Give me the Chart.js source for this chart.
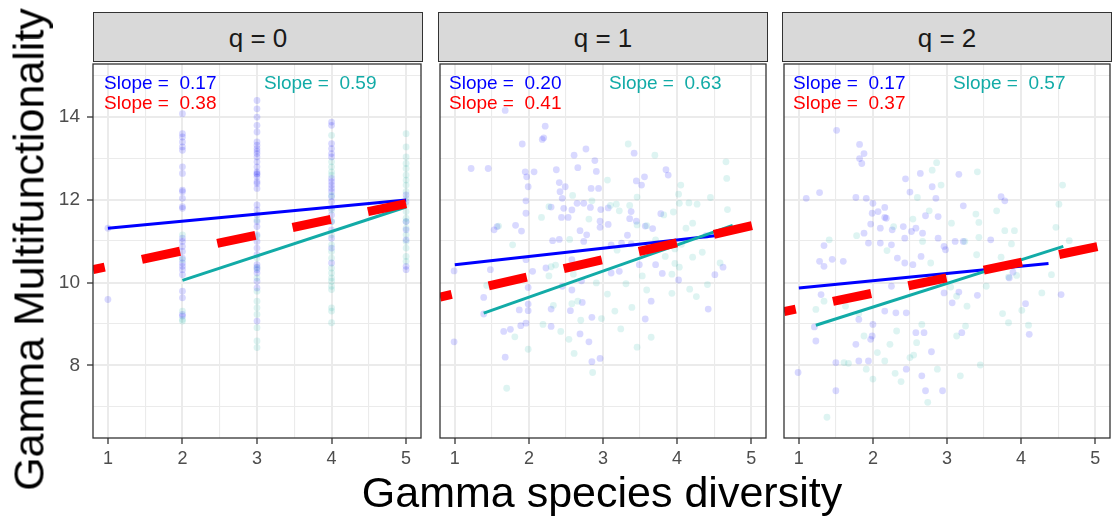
<!DOCTYPE html>
<html>
<head>
<meta charset="utf-8">
<script src="https://cdn.jsdelivr.net/npm/chart.js@4.4.1/dist/chart.umd.min.js"></script>
<style>
  body { margin: 0; background: #fff; width: 1116px; height: 518px; overflow: hidden; position: relative;
         font-family: 'Liberation Sans', Arial, sans-serif; }
  .box { position: absolute; }
  .strip { position: absolute; top: 12px; height: 50px; background: #D9D9D9; border: 1.3px solid #333;
           box-sizing: border-box; font-size: 26px; color: #1a1a1a; display: flex; align-items: center; justify-content: center;
           padding-top: 3px; }
  .note { position: absolute; font-size: 19px; line-height: 19px; white-space: pre; }
  .xtitle { position: absolute; left: 0; width: 1204px; top: 471px; font-size: 43px; line-height: 43px; text-align: center; color: #000; }
  .ytitle { position: absolute; width: 600px; height: 43px; left: -271px; top: 228px; font-size: 43px; line-height: 43px;
            text-align: center; color: #000; transform: rotate(-90deg); }
</style>
</head>
<body>
<div id="root"></div>
<div class="xtitle">Gamma species diversity</div>
<div class="ytitle">Gamma Multifunctionality</div>
<script>
// Facet labels and fitted slopes
const STRIP_LABELS = ['q = 0', 'q = 1', 'q = 2'];
const BLUE_SLOPES = ['0.17', '0.20', '0.17'];
const RED_SLOPES = ['0.38', '0.41', '0.37'];
const TEAL_SLOPES = ['0.59', '0.63', '0.57'];

// Axes
const X_MIN = 0.8, X_MAX = 5.2, Y_MIN = 6.25, Y_MAX = 15.27;
const X_GRID = [1, 1.5, 2, 2.5, 3, 3.5, 4, 4.5, 5];
const X_MAJOR = [1, 2, 3, 4, 5];
const X_TICK_LABELS = ['1', '2', '3', '4', '5'];
const Y_GRID = [7, 8, 9, 10, 11, 12, 13, 14, 15];
const Y_MAJOR = [8, 10, 12, 14];
const Y_TICK_LABELS = ['8', '10', '12', '14'];

// q = 0 : points sit on whole-number diversity, stored as [x, [y...]]
const Q0_BLUE_COLS = [
  [1, [11.31, 9.59]],
  [2, [14.07, 13.59, 13.51, 13.39, 13.27, 13.19, 12.79, 12.63, 12.23, 12.19, 12.03, 11.83, 11.79, 11.07, 10.99,
       10.87, 10.75, 10.59, 10.47, 10.39, 10.31, 10.19, 9.79, 9.63, 9.23, 9.19]],
  [3, [14.39, 14.19, 13.99, 13.79, 13.63, 13.39, 13.31, 13.23, 13.17, 13.11, 13.03, 12.91, 12.79, 12.67, 12.63, 12.61,
       12.55, 12.43, 12.39, 12.27, 11.87, 11.75, 11.63, 11.47, 11.35, 11.15, 10.99, 10.83, 10.67, 10.43, 10.37,
       10.31, 10.23, 10.03, 9.87, 9.07]],
  [4, [13.87, 13.79, 13.35, 13.23, 13.11, 13.03, 12.51, 12.43, 12.35, 12.27, 12.19, 12.07, 11.95, 11.79, 11.63,
       11.47, 11.27, 11.07, 10.83, 10.47]],
  [5, [12.11, 11.95, 11.47, 11.27, 11.03, 10.39, 10.31]]
];
const Q0_TEAL_COLS = [
  [2, [11.15, 10.55, 9.31, 9.11, 9.07]],
  [3, [11.51, 11.11, 10.59, 10.35, 10.11, 9.79, 9.55, 9.39, 9.23, 8.91, 8.59, 8.43]],
  [4, [13.55, 12.91, 12.79, 12.67, 12.59, 12.1, 11.75, 11.47, 11.15, 10.91, 10.75, 10.59, 10.35, 10.23, 10.11,
       10.03, 9.91, 9.83, 9.39, 9.31, 9.03]],
  [5, [13.59, 13.27, 13.03, 12.87, 12.75, 12.59, 12.47, 12.35, 12.19, 12.03, 11.87, 11.71, 11.55, 11.47, 11.31,
       11.15, 10.99, 10.83, 10.63, 10.51]]
];

// q = 1 points [x, y]
const Q1_BLUE = [
  [1.68, 14.15], [2.22, 13.77], [2.20, 13.49], [2.18, 13.45], [1.91, 13.34], [2.61, 13.07], [2.77, 13.22], [2.89, 12.94],
  [3.42, 13.12], [1.22, 12.75], [1.45, 12.75], [1.95, 12.67], [1.97, 12.55], [2.07, 12.67], [2.37, 12.72], [2.66, 12.77],
  [2.91, 12.68], [3.56, 12.55], [3.85, 12.72], [3.88, 12.59], [1.99, 12.31], [2.41, 12.41], [2.49, 12.31], [2.84, 12.27],
  [2.94, 12.27], [3.45, 12.45], [3.52, 12.35], [1.96, 11.97], [2.42, 12.19], [2.45, 12.03], [2.30, 11.82], [2.65, 11.91],
  [2.74, 11.91], [2.47, 11.79], [2.58, 11.75], [2.83, 11.81], [2.97, 11.76], [3.07, 11.80], [3.38, 11.71], [1.96, 11.67],
  [2.44, 11.57], [2.53, 11.57], [3.36, 11.54], [3.45, 11.48], [3.78, 11.66], [2.96, 11.48], [3.07, 11.40], [2.96, 11.33],
  [2.69, 11.25], [2.78, 11.15], [3.57, 11.36], [3.67, 11.30], [1.82, 11.38], [1.57, 11.35], [1.53, 11.27], [1.90, 11.24],
  [3.33, 11.14], [2.32, 11.01], [2.41, 11.04], [2.74, 10.99], [3.11, 10.91], [3.25, 10.95], [3.38, 10.93], [4.39, 11.13],
  [1.96, 10.55], [2.23, 10.35], [1.48, 10.31], [2.05, 10.27], [0.99, 10.28], [2.58, 10.55], [2.94, 10.55], [3.11, 10.23],
  [3.22, 10.27], [3.49, 10.43], [3.71, 10.43], [3.80, 10.22], [4.02, 10.06], [4.51, 10.19], [4.62, 10.37], [2.45, 9.91],
  [2.58, 9.82], [1.99, 9.88], [1.99, 9.48], [1.99, 9.32], [2.71, 10.04], [1.39, 9.64], [1.39, 9.24], [1.87, 9.34],
  [2.30, 9.36], [2.56, 9.32], [2.72, 9.52], [2.85, 9.16], [3.57, 9.12], [3.65, 9.55], [4.42, 9.36], [1.66, 8.82],
  [1.75, 8.87], [1.89, 8.96], [1.96, 9.02], [2.30, 8.94], [2.69, 8.76], [2.81, 8.57], [0.99, 8.57], [1.68, 8.20],
  [2.85, 8.09], [2.96, 8.17]
];
const Q1_TEAL = [
  [3.34, 13.34], [3.70, 13.07], [4.66, 12.91], [4.67, 12.51], [3.06, 12.47], [3.46, 12.06], [3.18, 11.89], [3.10, 11.86],
  [2.85, 11.97], [2.59, 12.10], [2.27, 11.83], [2.17, 11.57], [1.59, 11.36], [3.22, 11.73], [3.36, 11.86], [4.05, 12.35],
  [4.02, 12.13], [4.03, 11.91], [4.16, 11.92], [4.27, 11.89], [4.45, 12.05], [4.68, 11.76], [3.95, 11.70], [3.82, 11.63],
  [4.21, 11.43], [4.12, 11.31], [3.46, 11.39], [3.59, 11.37], [2.81, 11.53], [2.55, 11.04], [3.19, 10.78], [3.71, 11.03],
  [3.84, 10.63], [3.97, 10.81], [4.06, 10.92], [4.21, 10.61], [4.34, 10.73], [4.03, 10.37], [3.97, 10.46], [4.58, 10.47],
  [2.30, 10.38], [2.36, 10.42], [1.78, 10.91], [1.43, 9.93], [2.27, 10.16], [2.60, 10.20], [2.91, 9.99], [3.06, 9.72],
  [3.31, 9.97], [3.53, 10.16], [3.93, 10.20], [4.26, 9.66], [4.17, 9.84], [4.41, 9.95], [3.93, 9.74], [3.59, 9.82],
  [2.58, 9.49], [2.66, 9.55], [2.70, 9.09], [2.33, 9.45], [2.19, 8.99], [2.43, 8.82], [2.54, 8.63], [1.81, 8.69],
  [1.99, 8.39], [2.61, 8.29], [2.98, 9.13], [3.16, 9.31], [3.24, 8.88], [3.39, 9.40], [3.46, 8.44], [3.65, 8.68],
  [2.86, 7.83], [1.70, 7.45]
];

// q = 2 points [x, y]
const Q2_BLUE = [
  [1.51, 13.67], [1.82, 13.33], [1.88, 13.11], [1.82, 12.99], [1.85, 12.87], [1.10, 12.03], [1.28, 12.17], [1.77, 12.05],
  [1.91, 12.03], [2.00, 11.91], [2.44, 12.50], [2.64, 12.63], [2.50, 12.18], [2.80, 12.31], [3.16, 12.61], [2.85, 12.03],
  [3.73, 12.07], [3.78, 11.97], [2.16, 11.81], [2.07, 11.71], [1.99, 11.67], [2.16, 11.57], [2.18, 11.55], [2.71, 11.61],
  [2.88, 11.59], [3.22, 11.85], [1.97, 11.41], [2.10, 11.31], [2.26, 11.27], [2.41, 11.35], [2.52, 11.23], [2.58, 11.31],
  [2.67, 11.19], [1.88, 11.19], [1.94, 10.95], [1.34, 10.89], [1.45, 10.56], [1.28, 10.51], [1.34, 10.39], [1.60, 10.51],
  [2.10, 10.95], [2.43, 11.07], [2.25, 10.91], [2.88, 11.07], [2.96, 10.87], [2.98, 10.79], [3.11, 10.99], [3.22, 10.99],
  [3.59, 11.03], [2.33, 10.59], [2.43, 10.47], [2.54, 10.43], [2.65, 10.63], [2.78, 10.07], [1.30, 9.71], [1.65, 9.63],
  [1.81, 9.11], [1.21, 8.93], [1.23, 8.59], [0.99, 7.83], [1.50, 7.39], [2.00, 8.99], [1.99, 8.71], [1.97, 8.63],
  [1.77, 8.51], [1.94, 8.11], [1.50, 8.07], [1.81, 8.11], [2.45, 7.91], [2.66, 7.75], [2.71, 7.39], [2.94, 7.39],
  [2.16, 9.31], [2.31, 9.27], [2.45, 9.27], [2.58, 8.79], [2.69, 8.79], [2.79, 8.33], [3.20, 8.79], [3.16, 9.77],
  [3.41, 9.69], [3.84, 10.11], [3.89, 10.25], [4.06, 9.49], [4.11, 8.75], [4.54, 9.71], [2.96, 9.75], [3.07, 9.51],
  [2.25, 9.91], [2.67, 9.95]
];
const Q2_TEAL = [
  [2.86, 12.89], [2.80, 12.71], [2.92, 12.35], [3.41, 12.67], [4.56, 12.35], [4.51, 11.89], [4.47, 11.33], [4.65, 11.01],
  [2.60, 12.05], [2.54, 11.53], [2.76, 11.73], [3.39, 11.65], [3.43, 11.45], [3.43, 11.09], [3.67, 11.73], [3.78, 11.25],
  [3.91, 11.25], [3.87, 10.93], [3.73, 10.61], [3.40, 10.67], [3.06, 11.43], [3.24, 10.99], [1.78, 11.13], [1.41, 11.03],
  [2.19, 10.77], [2.28, 11.35], [2.67, 10.99], [2.78, 10.47], [3.05, 9.89], [3.13, 9.67], [3.27, 9.43], [3.53, 9.91],
  [3.83, 10.13], [3.94, 10.17], [4.01, 9.33], [4.10, 8.97], [3.83, 9.03], [3.75, 9.25], [4.41, 10.19], [4.28, 9.75],
  [1.23, 9.35], [1.34, 9.55], [1.63, 9.43], [1.81, 9.25], [1.88, 8.71], [1.61, 8.07], [1.67, 8.05], [1.91, 7.91],
  [2.00, 7.67], [2.06, 8.31], [2.16, 8.11], [2.30, 7.81], [2.38, 7.61], [2.55, 8.25], [2.59, 8.55], [2.66, 8.99],
  [2.50, 8.19], [2.74, 7.11], [1.38, 6.75], [2.87, 7.91], [3.18, 7.75], [3.25, 8.95], [3.45, 8.01], [3.13, 8.71],
  [2.23, 8.51], [2.32, 8.83]
];

// Fitted lines, end points
const BLUE_LINES = [
  [[1, 11.31], [5, 11.99]],
  [[1, 10.43], [4.51, 11.13]],
  [[1, 9.87], [4.37, 10.46]]
];
const TEAL_LINES = [
  [[2, 10.05], [5, 11.82]],
  [[1.39, 9.26], [4.75, 11.38]],
  [[1.23, 8.97], [4.57, 10.87]]
];
const RED_LINES = [
  [[0.8, 10.31], [5.2, 11.98]],
  [[0.8, 9.65], [5.2, 11.45]],
  [[0.8, 9.30], [5.2, 10.93]]
];

const BLUE = '#0000FF';
const RED = '#FF0000';
const TEAL = '#12ABA7';

Chart.defaults.font.family = "'Liberation Sans', Arial, sans-serif";
Chart.defaults.animation = false;

function fromCols(cols) {
    const out = [];
    cols.forEach(([x, ys]) => ys.forEach(y => out.push({ x: x, y: y })));
    return out;
}
function fromPairs(pairs) {
    return pairs.map(([x, y]) => ({ x: x, y: y }));
}

// ggplot-like panel border
const borderPlugin = {
    id: 'panelBorder',
    afterDraw(chart) {
        const a = chart.chartArea, c = chart.ctx;
        c.save();
        c.strokeStyle = '#333333';
        c.lineWidth = 1.3;
        c.strokeRect(a.left, a.top, a.right - a.left, a.bottom - a.top);
        c.restore();
    }
};

const PANEL_LEFT = [93, 438, 782];
const PANEL_W = 330, PANEL_TOP = 62, PANEL_H = 376;

function makePanel(i, blue, teal) {
    const showY = i === 0;
    const yW = showY ? 63 : 0;
    const xH = 34;
    const root = document.getElementById('root');

    const box = document.createElement('div');
    box.className = 'box';
    box.style.left = (PANEL_LEFT[i] - yW - 2) + 'px';
    box.style.top = (PANEL_TOP - 2) + 'px';
    box.style.width = (PANEL_W + yW + 4) + 'px';
    box.style.height = (PANEL_H + xH + 2) + 'px';
    const canvas = document.createElement('canvas');
    box.appendChild(canvas);
    root.appendChild(box);

    const strip = document.createElement('div');
    strip.className = 'strip';
    strip.style.left = PANEL_LEFT[i] + 'px';
    strip.style.width = PANEL_W + 'px';
    strip.textContent = STRIP_LABELS[i];
    root.appendChild(strip);

    const notes = [
        [11, 73, BLUE, BLUE_SLOPES[i]],
        [11, 93, RED, RED_SLOPES[i]],
        [171, 73, TEAL, TEAL_SLOPES[i]]
    ];
    notes.forEach(([dx, top, color, val]) => {
        const n = document.createElement('div');
        n.className = 'note';
        n.style.left = (PANEL_LEFT[i] + dx) + 'px';
        n.style.top = top + 'px';
        n.style.color = color;
        n.textContent = 'Slope =  ' + val;
        root.appendChild(n);
    });

    new Chart(canvas, {
        type: 'scatter',
        data: {
            datasets: [
                {
                    data: fromPairs(RED_LINES[i]), showLine: true, borderColor: RED, borderWidth: 9,
                    borderDash: [39, 38], borderDashOffset: 27, pointRadius: 0, clip: 0
                },
                {
                    data: fromPairs(TEAL_LINES[i]), showLine: true, borderColor: TEAL, borderWidth: 3,
                    pointRadius: 0, clip: 0
                },
                {
                    data: fromPairs(BLUE_LINES[i]), showLine: true, borderColor: BLUE, borderWidth: 3,
                    pointRadius: 0, clip: 0
                },
                {
                    data: teal, pointRadius: 3.4, borderWidth: 0,
                    backgroundColor: 'rgba(32, 178, 170, 0.15)', clip: 0
                },
                {
                    data: blue, pointRadius: 3.4, borderWidth: 0,
                    backgroundColor: 'rgba(0, 0, 255, 0.15)', clip: 0
                }
            ]
        },
        options: {
            responsive: true,
            maintainAspectRatio: false,
            events: [],
            layout: { padding: { left: 2, right: 2, top: 2, bottom: 0 } },
            plugins: { legend: { display: false }, tooltip: { enabled: false } },
            scales: {
                x: {
                    type: 'linear', min: X_MIN, max: X_MAX,
                    afterBuildTicks: s => { s.ticks = X_GRID.map(v => ({ value: v })); },
                    afterFit: s => { s.height = xH; s.paddingLeft = 0; s.paddingRight = 0; },
                    border: { display: false },
                    grid: {
                        color: '#EBEBEB',
                        lineWidth: c => X_MAJOR.includes(c.tick.value) ? 2 : 1.1,
                        tickColor: c => X_MAJOR.includes(c.tick.value) ? '#333333' : 'rgba(0,0,0,0)',
                        tickLength: 6, tickWidth: 1.3
                    },
                    ticks: {
                        autoSkip: false, maxRotation: 0, padding: 4, color: '#4D4D4D', font: { size: 18 },
                        callback: v => { const k = X_MAJOR.indexOf(v); return k >= 0 ? X_TICK_LABELS[k] : ''; }
                    }
                },
                y: {
                    type: 'linear', min: Y_MIN, max: Y_MAX,
                    afterBuildTicks: s => { s.ticks = Y_GRID.map(v => ({ value: v })); },
                    afterFit: s => { s.width = yW; s.paddingTop = 0; s.paddingBottom = 0; },
                    border: { display: false },
                    grid: {
                        color: '#EBEBEB',
                        lineWidth: c => Y_MAJOR.includes(c.tick.value) ? 2 : 1.1,
                        tickColor: c => Y_MAJOR.includes(c.tick.value) ? '#333333' : 'rgba(0,0,0,0)',
                        drawTicks: showY, tickLength: 6, tickWidth: 1.3
                    },
                    ticks: {
                        display: showY, autoSkip: false, padding: 7, color: '#4D4D4D', font: { size: 19 },
                        callback: v => { const k = Y_MAJOR.indexOf(v); return k >= 0 ? Y_TICK_LABELS[k] : ''; }
                    }
                }
            }
        },
        plugins: [borderPlugin]
    });
}

makePanel(0, fromCols(Q0_BLUE_COLS), fromCols(Q0_TEAL_COLS));
makePanel(1, fromPairs(Q1_BLUE), fromPairs(Q1_TEAL));
makePanel(2, fromPairs(Q2_BLUE), fromPairs(Q2_TEAL));
</script>
</body>
</html>
